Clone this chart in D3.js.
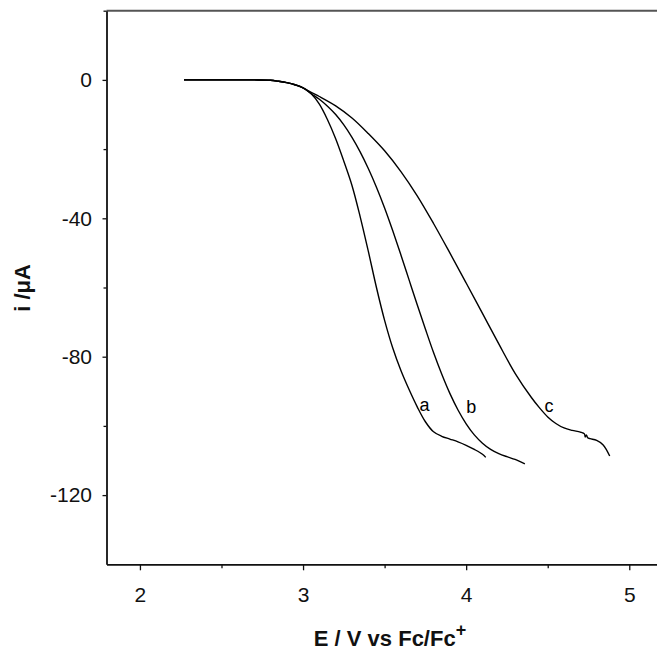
<!DOCTYPE html>
<html>
<head>
<meta charset="utf-8">
<script src="https://cdn.jsdelivr.net/npm/d3@7"></script>
<style>
  body { margin: 0; background: #fff; }
  svg { display: block; }
  text { font-family: Arial, "Liberation Sans", sans-serif; }
</style>
</head>
<body>
<svg id="chart" width="657" height="652"></svg>
<script>
// ---- data ----
const aE = [2.27, 2.5, 2.7, 2.8, 2.85, 2.9, 2.95, 3.0, 3.05, 3.1, 3.15, 3.2, 3.25, 3.3, 3.35, 3.4, 3.45, 3.5, 3.55, 3.6, 3.65, 3.7, 3.75, 3.8, 3.85, 3.9, 3.95, 4.0, 4.05, 4.1, 4.12];
const aI = [0, 0, 0, -0.1, -0.4, -0.8, -1.4, -2.3, -4.0, -7.0, -11.5, -17.0, -23.5, -30.5, -39.5, -49.5, -60.0, -69.5, -77.5, -84.0, -89.5, -94.5, -98.8, -101.7, -103.0, -103.8, -104.6, -105.6, -106.8, -108.2, -109.1];

const bE = [2.27, 2.5, 2.7, 2.8, 2.85, 2.9, 2.95, 3.0, 3.05, 3.1, 3.15, 3.2, 3.25, 3.3, 3.35, 3.4, 3.45, 3.5, 3.55, 3.6, 3.65, 3.7, 3.75, 3.8, 3.85, 3.9, 3.95, 4.0, 4.05, 4.1, 4.15, 4.2, 4.25, 4.3, 4.36];
const bI = [0, 0, 0, -0.1, -0.4, -0.8, -1.4, -2.3, -4.0, -5.6, -7.6, -10.0, -13.0, -16.6, -20.8, -25.6, -31.0, -37.0, -43.6, -50.6, -57.8, -65.0, -72.0, -78.8, -85.0, -90.6, -95.4, -99.4, -102.6, -105.0, -106.8, -108.0, -108.9, -109.7, -111.0];

const cE = [2.27, 2.5, 2.7, 2.8, 2.85, 2.9, 2.95, 3.0, 3.05, 3.1, 3.2, 3.3, 3.4, 3.5, 3.6, 3.7, 3.8, 3.9, 4.0, 4.1, 4.2, 4.3, 4.4, 4.45, 4.5, 4.55, 4.6, 4.65, 4.7, 4.725, 4.73, 4.737, 4.745, 4.76, 4.8, 4.84, 4.88];
const cI = [0, 0, 0, -0.1, -0.4, -0.8, -1.4, -2.3, -3.6, -4.8, -7.5, -11.0, -15.5, -20.5, -26.5, -33.5, -41.5, -50.0, -58.7, -67.5, -76.3, -84.8, -91.8, -94.8, -97.4, -99.3, -100.6, -101.3, -101.8, -102.3, -103.2, -102.6, -103.4, -103.7, -104.2, -105.5, -108.7];

const curveLabels = ["a", "b", "c"];
const labelE = [3.745, 4.031, 4.508];
const labelI = [-95.7, -96.3, -96.0];

const xMajorTicks = [2, 3, 4, 5];
const xMinorTicks = [2.5, 3.5, 4.5];
const yMajorTicks = [0, -40, -80, -120];
const yMinorTicks = [20, -20, -60, -100];

const xTitle = "E / V vs Fc/Fc";
const xTitleSup = "+";
const yTitle = "i /\u03BCA";

// ---- scales ----
const svg = d3.select("#chart");
const plotL = 106.5, plotR = 657, plotT = 10.7, plotB = 564.3;
const x = d3.scaleLinear().domain([1.795, 5.17]).range([plotL, plotR]);
const y = d3.scaleLinear().domain([20, -140]).range([plotT, plotB]);

// ---- axes ----
const fmt = d => String(d);

// top frame line
svg.append("line")
  .attr("x1", plotL).attr("x2", plotR)
  .attr("y1", plotT).attr("y2", plotT)
  .attr("stroke", "#555").attr("stroke-width", 2);

const gx = svg.append("g").attr("transform", `translate(0,${plotB})`)
  .call(d3.axisBottom(x).tickValues(xMajorTicks).tickFormat(fmt).tickSizeInner(6).tickSizeOuter(0).tickPadding(17));
const gxm = svg.append("g").attr("transform", `translate(0,${plotB})`)
  .call(d3.axisBottom(x).tickValues(xMinorTicks).tickFormat("").tickSizeInner(4).tickSizeOuter(0));
const gy = svg.append("g").attr("transform", `translate(${plotL},0)`)
  .call(d3.axisLeft(y).tickValues(yMajorTicks).tickFormat(fmt).tickSizeInner(4).tickSizeOuter(0).tickPadding(10.5));
const gym = svg.append("g").attr("transform", `translate(${plotL},0)`)
  .call(d3.axisLeft(y).tickValues(yMinorTicks).tickFormat("").tickSizeInner(3).tickSizeOuter(0));

[gx, gxm, gy, gym].forEach(g => {
  g.selectAll(".domain").attr("stroke", "#111").attr("stroke-width", 1.8);
  g.selectAll(".tick line").attr("stroke", "#111").attr("stroke-width", 1.3);
  g.selectAll(".tick text").attr("fill", "#111")
    .style("font-size", "21px").style("font-family", "Arial, 'Liberation Sans', sans-serif");
});
gxm.select(".domain").remove();
gym.select(".domain").remove();

// ---- curves ----
const line = d3.line().x(d => x(d[0])).y(d => y(d[1])).curve(d3.curveCatmullRom.alpha(0.5));
const series = [[aE, aI], [bE, bI], [cE, cI]];
series.forEach(([E, I]) => {
  svg.append("path")
    .datum(E.map((e, k) => [e, I[k]]))
    .attr("d", line)
    .attr("fill", "none")
    .attr("stroke", "#000")
    .attr("stroke-width", 1.4);
});

// curve labels
svg.selectAll("text.curvelabel")
  .data(curveLabels)
  .join("text")
  .attr("class", "curvelabel")
  .attr("x", (d, k) => x(labelE[k]))
  .attr("y", (d, k) => y(labelI[k]))
  .attr("text-anchor", "middle")
  .style("font-size", "18px")
  .attr("fill", "#000")
  .text(d => d);

// ---- titles ----
const xt = svg.append("text")
  .attr("x", 390).attr("y", 646)
  .attr("text-anchor", "middle")
  .style("font-size", "22px").style("font-weight", "bold")
  .attr("fill", "#111");
xt.append("tspan").text(xTitle);
xt.append("tspan").attr("dy", -10).style("font-size", "18px").text(xTitleSup);

svg.append("text")
  .attr("transform", "translate(30,288) rotate(-90)")
  .attr("text-anchor", "middle")
  .style("font-size", "22px").style("font-weight", "bold")
  .attr("fill", "#111")
  .text(yTitle);
</script>
</body>
</html>
